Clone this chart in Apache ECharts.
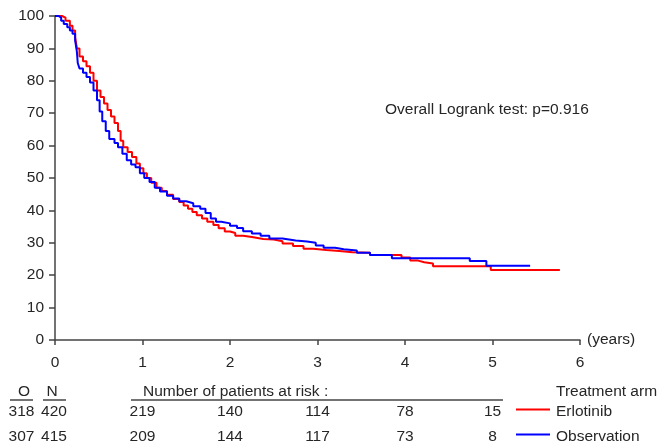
<!DOCTYPE html>
<html>
<head>
<meta charset="utf-8">
<script src="https://cdn.jsdelivr.net/npm/echarts@6/dist/echarts.min.js"></script>
<style>
html,body{margin:0;padding:0;background:#fff;}
#chart{width:660px;height:448px;}
</style>
</head>
<body>
<div id="chart"></div>
<script>
// ---- data ----
const seriesNames = ['Erlotinib', 'Observation'];
const seriesColors = ['#ff0000', '#0000ff'];
const erlotinibT = [0,0.08,0.12,0.17,0.20,0.23,0.25,0.28,0.32,0.36,0.40,0.44,0.48,0.52,0.56,0.60,0.64,0.68,0.72,0.75,0.78,0.83,0.88,0.93,0.97,1.01,1.05,1.10,1.16,1.22,1.28,1.35,1.42,1.47,1.52,1.57,1.62,1.68,1.74,1.81,1.87,1.94,2.00,2.06,2.15,2.25,2.38,2.50,2.60,2.72,2.84,2.95,3.10,3.25,3.40,3.60,3.96,4.06,4.15,4.22,4.32,4.98,5.77];
const erlotinibS = [100,99.5,98.5,97,95.5,93.5,90,87.5,86,84.5,82.5,80,77,75,73,71,69,67,64.5,61.5,59.5,58,56.5,54.5,53,51.5,50,48.5,47,46,44.8,43.5,42.6,41.5,40.5,39.5,38.5,37.5,36.5,35.5,34.5,33.5,33,32.2,31.8,31.2,31,30.5,29.8,29,28.2,27.8,27.5,27.1,26.9,26.2,25.5,24.5,24.0,23.6,22.8,21.6,21.6];
const observationT = [0,0.04,0.07,0.10,0.14,0.17,0.20,0.23,0.25,0.26,0.28,0.32,0.36,0.40,0.44,0.48,0.51,0.54,0.58,0.62,0.68,0.72,0.77,0.82,0.87,0.92,0.97,1.02,1.08,1.14,1.20,1.28,1.35,1.42,1.50,1.58,1.66,1.72,1.78,1.84,1.90,2.00,2.08,2.15,2.25,2.35,2.45,2.60,2.75,2.88,2.98,3.07,3.20,3.30,3.45,3.60,3.85,4.74,4.93,5.43];
const observationS = [100,99.5,98.5,97.5,96.5,95.5,94.5,92.5,89,85.5,83.8,82.5,81.2,79.5,77,74,70.5,67.5,64.5,62,60.8,59.5,57.5,55.5,54.2,53.3,51.5,50,48.8,47,45.8,44.5,43.7,42.8,42.2,41.3,40.5,39.2,37.5,36.5,36,35.3,34.6,33.6,32.9,32.2,31.3,30.7,30.4,30,29.2,28.5,28,27.6,26.9,26.2,25.2,24.4,22.9,22.9];
const riskTimes = [1, 2, 3, 4, 5];
const riskErlotinib = [219, 140, 114, 78, 15];
const riskObservation = [209, 144, 117, 73, 8];
const observedEvents = [318, 307];
const totalN = [420, 415];
const xTicks = [0, 1, 2, 3, 4, 5, 6];
const yTicks = [0, 10, 20, 30, 40, 50, 60, 70, 80, 90, 100];
const pText = 'Overall Logrank test: p=0.916';

// ---- chart ----
const FONT = '"Liberation Sans", Arial, sans-serif';
const FS = 15.5;
const TXT = '#262626';
const AX = '#444';
const chart = echarts.init(document.getElementById('chart'), null, {renderer: 'canvas'});

function pairs(t, s) { return t.map((v, i) => [v, s[i]]); }

chart.setOption({
  animation: false,
  backgroundColor: '#fff',
  grid: {left: 55, right: 80, top: 16, bottom: 108, containLabel: false},
  xAxis: {
    type: 'value', min: xTicks[0], max: xTicks[xTicks.length - 1], interval: 1,
    name: '(years)', nameLocation: 'end', nameGap: 7,
    nameTextStyle: {fontFamily: FONT, fontSize: FS, color: TXT},
    axisLine: {show: true, onZero: false, lineStyle: {color: AX, width: 1.5}},
    axisTick: {show: true, length: 5, lineStyle: {color: AX, width: 1.5}},
    axisLabel: {margin: 15, fontFamily: FONT, fontSize: FS, color: TXT},
    splitLine: {show: false}
  },
  yAxis: {
    type: 'value', min: yTicks[0], max: yTicks[yTicks.length - 1], interval: 10,
    axisLine: {show: true, onZero: false, lineStyle: {color: AX, width: 1.5}},
    axisTick: {show: true, length: 6, lineStyle: {color: AX, width: 1.5}},
    axisLabel: {margin: 11, fontFamily: FONT, fontSize: FS, color: TXT},
    splitLine: {show: false}
  },
  series: [
    {name: seriesNames[0], type: 'line', step: 'end', showSymbol: false, color: seriesColors[0],
     lineStyle: {width: 2, color: seriesColors[0]}, data: pairs(erlotinibT, erlotinibS), z: 3},
    {name: seriesNames[1], type: 'line', step: 'end', showSymbol: false, color: seriesColors[1],
     lineStyle: {width: 2, color: seriesColors[1]}, data: pairs(observationT, observationS), z: 4}
  ]
});

const g = [];
function txt(x, y, s, align) {
  g.push({type: 'text', x: x, y: y, style: {text: String(s), fill: TXT, font: FS + 'px ' + FONT,
    textAlign: align || 'center', textVerticalAlign: 'middle'}});
}
function hline(x1, x2, y, color, w) {
  g.push({type: 'line', shape: {x1: x1, y1: y, x2: x2, y2: y}, style: {stroke: color || AX, lineWidth: w || 1.5}});
}
txt(385, 110, pText, 'left');
txt(24, 392, 'O'); txt(52, 392, 'N');
hline(10, 33, 400); hline(43, 66, 400);
txt(143, 392, 'Number of patients at risk :', 'left');
hline(131, 503, 400);
txt(556, 392, 'Treatment arm', 'left');
const rowY = [411.5, 436.5];
[riskErlotinib, riskObservation].forEach((arr, r) => {
  txt(21.5, rowY[r], observedEvents[r]);
  txt(54, rowY[r], totalN[r]);
  arr.forEach((v, i) => {
    const px = chart.convertToPixel({gridIndex: 0}, [riskTimes[i], 0])[0];
    txt(px, rowY[r], v);
  });
  hline(516, 550, rowY[r] - 2, seriesColors[r], 2);
  txt(556, rowY[r], seriesNames[r], 'left');
});
chart.setOption({graphic: g});
</script>
</body>
</html>
